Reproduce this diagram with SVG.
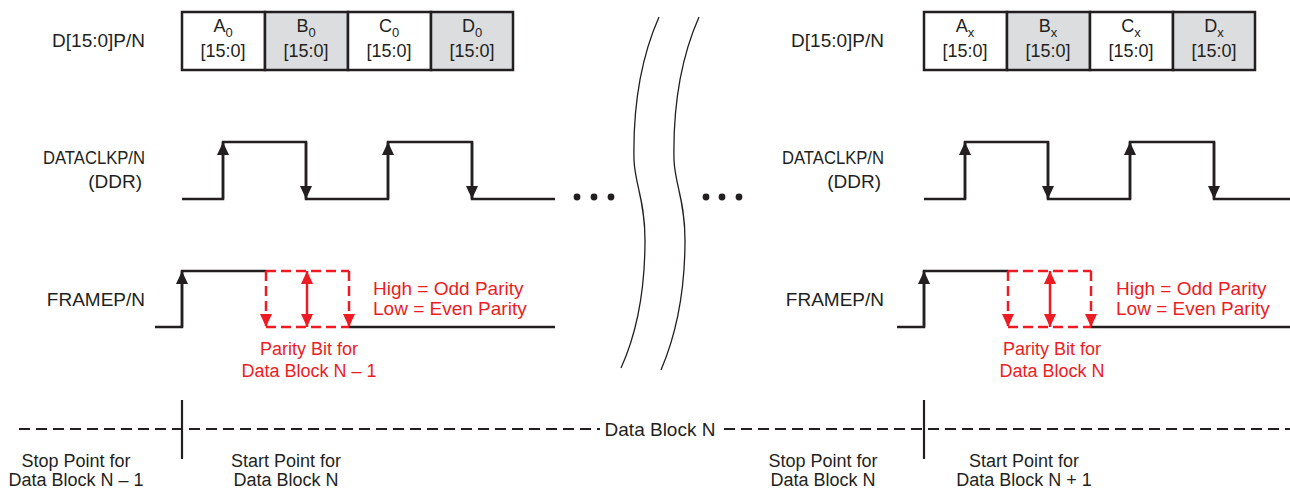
<svg xmlns="http://www.w3.org/2000/svg" width="1290" height="488" viewBox="0 0 1290 488">
<style>
text{font-family:"Liberation Sans",Arial,sans-serif;font-size:18px;fill:#231f20}
.lbl{text-anchor:end;font-size:19px}
.c{text-anchor:middle}
.red{fill:#ed1c24}
.big{font-size:19px}
.sub{font-size:13px}
.wave{fill:none;stroke:#231f20;stroke-width:2.5}
.cell{stroke:#231f20;stroke-width:2.5}
.w{fill:#fff}
.g{fill:#dcddde}
.ar{stroke:#231f20;stroke-width:2.5;marker-end:url(#ak)}
.rd{fill:none;stroke:#ed1c24;stroke-width:2.5;stroke-dasharray:10 5}
.rda{stroke:#ed1c24;stroke-width:2.5;stroke-dasharray:10 5;marker-end:url(#ar)}
.rs{stroke:#ed1c24;stroke-width:2.5;marker-end:url(#ar);marker-start:url(#ar)}
.brk{fill:none;stroke:#231f20;stroke-width:1.3}
.dash{stroke:#231f20;stroke-width:2.2;stroke-dasharray:11 6}
.tick{stroke:#231f20;stroke-width:2.2}
.dot{fill:#231f20}
</style>
<defs>
<marker id="ak" viewBox="0 0 13 12" refX="13" refY="6" markerWidth="13" markerHeight="12" markerUnits="userSpaceOnUse" orient="auto-start-reverse"><path d="M0,0 L13,6 L0,12 z" fill="#231f20"/></marker>
<marker id="ar" viewBox="0 0 13 12" refX="13" refY="6" markerWidth="13" markerHeight="12" markerUnits="userSpaceOnUse" orient="auto-start-reverse"><path d="M0,0 L13,6 L0,12 z" fill="#ed1c24"/></marker>
</defs>

<g id="labels-left">
<text class="lbl" x="145" y="47">D[15:0]P/N</text>
<text class="lbl" x="145" y="164" textLength="102" lengthAdjust="spacingAndGlyphs">DATACLKP/N</text>
<text class="lbl" x="142" y="188">(DDR)</text>
<text class="lbl" x="145" y="306">FRAMEP/N</text>
</g>
<g id="labels-right">
<text class="lbl" x="884" y="47">D[15:0]P/N</text>
<text class="lbl" x="884" y="164" textLength="102" lengthAdjust="spacingAndGlyphs">DATACLKP/N</text>
<text class="lbl" x="881" y="188">(DDR)</text>
<text class="lbl" x="884" y="306">FRAMEP/N</text>
</g>

<g id="data-block-0">
<rect class="cell w" x="182" y="12" width="83" height="58"/>
<rect class="cell g" x="265" y="12" width="83" height="58"/>
<rect class="cell w" x="348" y="12" width="83" height="58"/>
<rect class="cell g" x="431" y="12" width="82" height="58"/>
<text class="c" x="223" y="32">A<tspan class="sub" dy="5">0</tspan></text>
<text class="c" x="223" y="57">[15:0]</text>
<text class="c" x="306" y="32">B<tspan class="sub" dy="5">0</tspan></text>
<text class="c" x="306" y="57">[15:0]</text>
<text class="c" x="389" y="32">C<tspan class="sub" dy="5">0</tspan></text>
<text class="c" x="389" y="57">[15:0]</text>
<text class="c" x="472" y="32">D<tspan class="sub" dy="5">0</tspan></text>
<text class="c" x="472" y="57">[15:0]</text>
</g>

<g id="data-block-x">
<rect class="cell w" x="924" y="12" width="83" height="58"/>
<rect class="cell g" x="1007" y="12" width="83" height="58"/>
<rect class="cell w" x="1090" y="12" width="83" height="58"/>
<rect class="cell g" x="1173" y="12" width="82" height="58"/>
<text class="c" x="965" y="32">A<tspan class="sub" dy="5">x</tspan></text>
<text class="c" x="965" y="57">[15:0]</text>
<text class="c" x="1048" y="32">B<tspan class="sub" dy="5">x</tspan></text>
<text class="c" x="1048" y="57">[15:0]</text>
<text class="c" x="1131" y="32">C<tspan class="sub" dy="5">x</tspan></text>
<text class="c" x="1131" y="57">[15:0]</text>
<text class="c" x="1214" y="32">D<tspan class="sub" dy="5">x</tspan></text>
<text class="c" x="1214" y="57">[15:0]</text>
</g>

<g id="connectors">
<polyline class="wave" points="182,199 223,199 223,142 306,142 306,199 388,199 388,142 472,142 472,199 555,199"/>
<line class="ar" x1="223" y1="199" x2="223" y2="142"/>
<line class="ar" x1="306" y1="142" x2="306" y2="199"/>
<line class="ar" x1="388" y1="199" x2="388" y2="142"/>
<line class="ar" x1="472" y1="142" x2="472" y2="199"/>
<polyline class="wave" points="924,199 965,199 965,142 1048,142 1048,199 1130,199 1130,142 1214,142 1214,199 1290,199"/>
<line class="ar" x1="965" y1="199" x2="965" y2="142"/>
<line class="ar" x1="1048" y1="142" x2="1048" y2="199"/>
<line class="ar" x1="1130" y1="199" x2="1130" y2="142"/>
<line class="ar" x1="1214" y1="142" x2="1214" y2="199"/>

<polyline class="wave" points="155,327 182,327 182,271 266,271"/>
<line class="ar" x1="182" y1="327" x2="182" y2="271"/>
<line class="wave" x1="349" y1="327" x2="555" y2="327"/>
<line class="rd" x1="266" y1="271" x2="349" y2="271"/>
<line class="rd" x1="266" y1="327" x2="349" y2="327"/>
<line class="rda" x1="266" y1="271" x2="266" y2="327"/>
<line class="rda" x1="349" y1="271" x2="349" y2="327"/>
<line class="rs" x1="307" y1="271" x2="307" y2="327"/>

<polyline class="wave" points="897,327 924,327 924,271 1008,271"/>
<line class="ar" x1="924" y1="327" x2="924" y2="271"/>
<line class="wave" x1="1091" y1="327" x2="1290" y2="327"/>
<line class="rd" x1="1008" y1="271" x2="1091" y2="271"/>
<line class="rd" x1="1008" y1="327" x2="1091" y2="327"/>
<line class="rda" x1="1008" y1="271" x2="1008" y2="327"/>
<line class="rda" x1="1091" y1="271" x2="1091" y2="327"/>
<line class="rs" x1="1050" y1="271" x2="1050" y2="327"/>

<path class="brk" d="M659,17 C640,60 633,110 634,160 C635,185 645,200 645,240 C645,290 636,335 621,368"/>
<path class="brk" d="M699,17 C680,60 673,110 674,160 C675,185 685,200 685,240 C685,290 676,335 661,370"/>

<circle class="dot" cx="577" cy="197" r="3.4"/>
<circle class="dot" cx="594" cy="197" r="3.4"/>
<circle class="dot" cx="611" cy="197" r="3.4"/>
<circle class="dot" cx="706" cy="197" r="3.4"/>
<circle class="dot" cx="722" cy="197" r="3.4"/>
<circle class="dot" cx="739" cy="197" r="3.4"/>

<line class="dash" x1="19" y1="429" x2="600" y2="429"/>
<line class="dash" x1="724" y1="429" x2="1290" y2="429"/>
<line class="tick" x1="182" y1="400" x2="182" y2="459"/>
<line class="tick" x1="924" y1="400" x2="924" y2="459"/>
</g>

<g id="parity-left">
<text class="red big" x="373" y="295">High = Odd Parity</text>
<text class="red big" x="373" y="315">Low = Even Parity</text>
<text class="red c" x="309" y="355">Parity Bit for</text>
<text class="red c" x="309" y="377">Data Block N – 1</text>
</g>
<g id="parity-right">
<text class="red big" x="1116" y="295">High = Odd Parity</text>
<text class="red big" x="1116" y="315">Low = Even Parity</text>
<text class="red c" x="1052" y="355">Parity Bit for</text>
<text class="red c" x="1052" y="377">Data Block N</text>
</g>
<g id="timeline-labels">
<text class="c big" x="660" y="436">Data Block N</text>
<text class="c" x="76" y="467">Stop Point for</text>
<text class="c" x="76" y="486">Data Block N – 1</text>
<text class="c" x="286" y="467">Start Point for</text>
<text class="c" x="286" y="486">Data Block N</text>
<text class="c" x="823" y="467">Stop Point for</text>
<text class="c" x="823" y="486">Data Block N</text>
<text class="c" x="1024" y="467">Start Point for</text>
<text class="c" x="1024" y="486">Data Block N + 1</text>
</g>
</svg>
